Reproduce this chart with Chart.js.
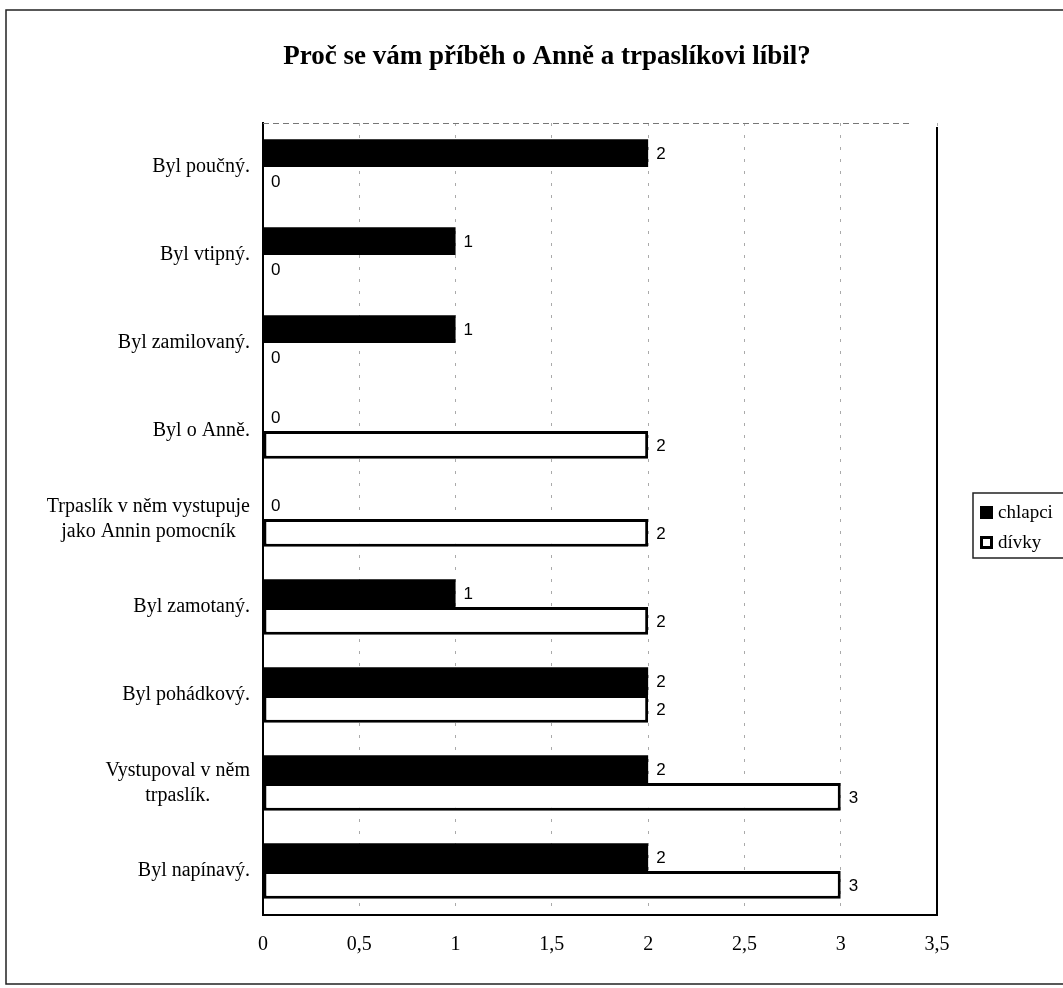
<!DOCTYPE html>
<html lang="cs">
<head>
<meta charset="utf-8">
<title>Proč se vám příběh o Anně a trpaslíkovi líbil?</title>
<script src="https://cdn.jsdelivr.net/npm/chart.js@4.4.1/dist/chart.umd.min.js"></script>
<style>
  html, body { margin: 0; padding: 0; background: #fff; }
  #wrap { width: 1063px; height: 988px; position: relative; }
</style>
</head>
<body>
<div id="wrap"><canvas id="chart"></canvas></div>
<script>
const chartTitle = "Proč se vám příběh o Anně a trpaslíkovi líbil?";
const categories = [
    "Byl poučný.",
    "Byl vtipný.",
    "Byl zamilovaný.",
    "Byl o Anně.",
    ["Trpaslík v něm vystupuje", "jako Annin pomocník"],
    "Byl zamotaný.",
    "Byl pohádkový.",
    ["Vystupoval v něm", "trpaslík."],
    "Byl napínavý."
];
const chlapci = [2, 1, 1, 0, 0, 1, 2, 2, 2];
const divky = [0, 0, 0, 2, 2, 2, 2, 3, 3];
const xTickLabels = ["0", "0,5", "1", "1,5", "2", "2,5", "3", "3,5"];

const serif = "'Liberation Serif', 'Times New Roman', serif";
const sans = "'Liberation Sans', Arial, sans-serif";

// title, frame, category labels, value labels and legend drawn by hand
const decorations = {
    id: "decorations",
    afterDraw(chart) {
        const ctx = chart.ctx;
        const area = chart.chartArea;
        const yScale = chart.scales.y;

        ctx.save();

        // outer frame
        ctx.strokeStyle = "#222";
        ctx.lineWidth = 1.5;
        ctx.beginPath();
        ctx.moveTo(1070, 10);
        ctx.lineTo(6, 10);
        ctx.lineTo(6, 984);
        ctx.lineTo(1070, 984);
        ctx.stroke();

        // title
        ctx.fillStyle = "#000";
        ctx.font = "bold 27px " + serif;
        ctx.textAlign = "center";
        ctx.textBaseline = "middle";
        ctx.fillText(chartTitle, 547, 57);

        // plot frame: dashed top, solid right
        ctx.strokeStyle = "#777";
        ctx.lineWidth = 1;
        ctx.setLineDash([6, 4]);
        ctx.beginPath();
        ctx.moveTo(area.left, area.top + 0.5);
        ctx.lineTo(area.right - 28, area.top + 0.5);
        ctx.stroke();
        ctx.setLineDash([]);
        ctx.strokeStyle = "#000";
        ctx.lineWidth = 2;
        ctx.beginPath();
        ctx.moveTo(area.right, area.top + 4);
        ctx.lineTo(area.right, area.bottom);
        ctx.stroke();

        // category labels, multi-line ones centred on their widest line
        ctx.font = "20px " + serif;
        ctx.textAlign = "center";
        categories.forEach((label, i) => {
            const lines = Array.isArray(label) ? label : [label];
            const w = Math.max(...lines.map(l => ctx.measureText(l).width));
            const cx = area.left - 13 - w / 2;
            const cy = yScale.getPixelForValue(i);
            lines.forEach((line, j) => {
                ctx.fillText(line, cx, cy + (j - (lines.length - 1) / 2) * 25);
            });
        });

        // value labels
        ctx.font = "17px " + sans;
        ctx.textAlign = "left";
        chart.data.datasets.forEach((ds, di) => {
            chart.getDatasetMeta(di).data.forEach((bar, i) => {
                ctx.fillText(String(ds.data[i]), bar.x + 8, bar.y + 1);
            });
        });

        // legend
        ctx.strokeStyle = "#222";
        ctx.lineWidth = 1.5;
        ctx.strokeRect(973, 493, 110, 65);
        ctx.font = "19px " + serif;
        chart.data.datasets.forEach((ds, di) => {
            const y = 513 + di * 30;
            ctx.fillStyle = ds.backgroundColor;
            ctx.fillRect(980, y - 7, 13, 13);
            if (ds.borderWidth) {
                ctx.strokeStyle = ds.borderColor;
                ctx.lineWidth = 3;
                ctx.strokeRect(981.5, y - 5.5, 10, 10);
            }
            ctx.fillStyle = "#000";
            ctx.fillText(ds.label, 998, y);
        });

        ctx.restore();
    }
};

new Chart(document.getElementById("chart").getContext("2d"), {
    type: "bar",
    data: {
        labels: categories,
        datasets: [
            {
                label: "chlapci",
                backgroundColor: "#000",
                borderColor: "#000",
                borderWidth: 0,
                data: chlapci
            },
            {
                label: "dívky",
                backgroundColor: "#fff",
                borderColor: "#000",
                borderWidth: 3,
                borderSkipped: false,
                data: divky
            }
        ]
    },
    options: {
        indexAxis: "y",
        responsive: true,
        maintainAspectRatio: false,
        animation: false,
        layout: {
            padding: {top: 123, right: 126, bottom: 0, left: 0}
        },
        datasets: {
            bar: {
                categoryPercentage: 0.63,
                barPercentage: 1
            }
        },
        plugins: {
            legend: {display: false},
            title: {display: false},
            tooltip: {enabled: false}
        },
        scales: {
            x: {
                min: 0,
                max: 3.5,
                afterFit(scale) { scale.height = 73; },
                ticks: {
                    stepSize: 0.5,
                    padding: 18,
                    color: "#000",
                    font: {family: serif, size: 20},
                    callback: (v, i) => xTickLabels[i]
                },
                grid: {
                    color: "#aaa",
                    lineWidth: 1,
                    drawTicks: false
                },
                border: {
                    color: "#000",
                    width: 2,
                    dash: [3, 9]
                }
            },
            y: {
                afterFit(scale) { scale.width = 263; },
                ticks: {display: false},
                grid: {display: false, drawTicks: false},
                border: {color: "#000", width: 2}
            }
        }
    },
    plugins: [decorations]
});
</script>
</body>
</html>
